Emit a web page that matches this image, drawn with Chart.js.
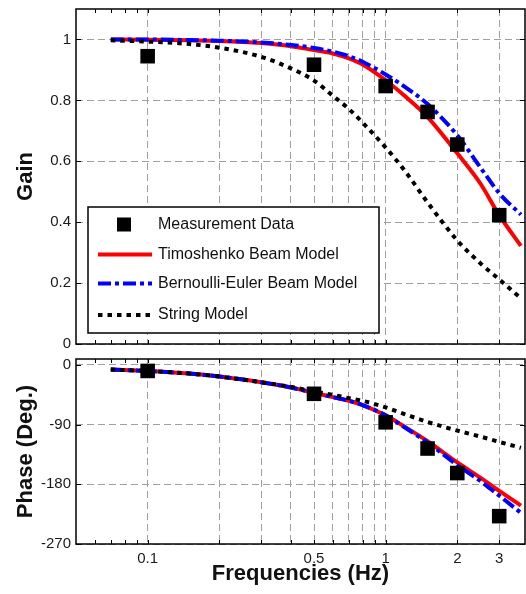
<!DOCTYPE html>
<html>
<head>
<meta charset="utf-8">
<script src="https://cdn.jsdelivr.net/npm/chart.js@4.4.0/dist/chart.umd.min.js"></script>
<style>
  html, body { margin: 0; padding: 0; background: #fff; }
  #wrap { position: relative; width: 526px; height: 594px; overflow: hidden; }
  #gainChart { position: absolute; left: 0; top: 0; }
  #phaseChart { position: absolute; left: 0; top: 350px; }
</style>
</head>
<body>
<div id="wrap">
  <canvas id="gainChart" width="526" height="353"></canvas>
  <canvas id="phaseChart" width="526" height="244"></canvas>
</div>
<script>
// model curves, sampled at these frequencies (Hz)
const freqModel = [0.07, 0.1, 0.15, 0.2, 0.3, 0.4, 0.5, 0.6, 0.7, 0.8, 1, 1.2, 1.5, 2, 2.5, 3, 3.7];
const gainTimoshenko = [1.0, 0.999, 0.997, 0.995, 0.988, 0.978, 0.965, 0.954, 0.938, 0.918, 0.866, 0.815, 0.745, 0.626, 0.527, 0.423, 0.322];
const gainBernoulli = [1.0, 1.0, 0.998, 0.996, 0.99, 0.982, 0.972, 0.96, 0.945, 0.927, 0.885, 0.845, 0.788, 0.685, 0.58, 0.495, 0.425];
const gainString = [0.997, 0.993, 0.985, 0.973, 0.943, 0.905, 0.865, 0.815, 0.772, 0.727, 0.645, 0.57, 0.465, 0.34, 0.265, 0.212, 0.15];
const phaseTimoshenko = [-7, -9, -13, -17.5, -26, -34, -42, -48.5, -54, -60.5, -76, -93, -115, -147, -170, -190, -212];
const phaseBernoulli = [-7, -9, -13, -17.5, -26, -34, -42, -48.5, -54, -60.5, -76, -94, -117, -151, -175, -197, -223];
const phaseString = [-7, -9, -13, -17.5, -26, -33, -40, -45, -50, -54, -64, -74, -86, -99, -108, -116, -125];

// measurements
const freqMeas = [0.1, 0.5, 1, 1.5, 2, 3];
const gainMeas = [0.945, 0.917, 0.847, 0.762, 0.655, 0.423];
const phaseMeas = [-9, -43.5, -86.5, -126, -163, -228];

// axes
const xTicks = [0.06, 0.07, 0.08, 0.09, 0.1, 0.2, 0.3, 0.4, 0.5, 0.6, 0.7, 0.8, 0.9, 1, 2, 3];
const xGrid = [0.1, 0.2, 0.3, 0.4, 0.5, 0.6, 0.7, 0.8, 0.9, 1, 2, 3];
const xLabels = [0.1, 0.5, 1, 2, 3];
const gainTicks = [0, 0.2, 0.4, 0.6, 0.8, 1];
const phaseTicks = [-270, -180, -90, 0];

Chart.defaults.font.family = "'Liberation Sans', Arial, sans-serif";
Chart.defaults.color = '#1a1a1a';

const GRID = '#a0a0a0';
const DASH = [7, 4];

function pts(xs, ys) {
  return xs.map((x, i) => ({x: x, y: ys[i]}));
}

function makeDatasets(meas, timo, bern, str) {
  return [{
    label: 'Measurement Data',
    data: pts(freqMeas, meas),
    showLine: false,
    pointStyle: 'rect',
    pointRadius: 10.3,
    pointBackgroundColor: '#000',
    pointBorderColor: '#000',
    pointBorderWidth: 0,
    order: 0
  }, {
    label: 'String Model',
    data: pts(freqModel, str),
    borderColor: '#000',
    borderWidth: 4,
    borderDash: [4.5, 5],
    pointRadius: 0,
    cubicInterpolationMode: 'monotone',
    order: 1
  }, {
    label: 'Bernoulli-Euler Beam Model',
    data: pts(freqModel, bern),
    borderColor: '#0000ff',
    borderWidth: 4,
    borderDash: [13, 4, 4, 4],
    pointRadius: 0,
    cubicInterpolationMode: 'monotone',
    order: 2
  }, {
    label: 'Timoshenko Beam Model',
    data: pts(freqModel, timo),
    borderColor: '#ff0000',
    borderWidth: 4,
    pointRadius: 0,
    cubicInterpolationMode: 'monotone',
    order: 3
  }];
}

// inward ticks + box frame, like the original plot
const framePlugin = {
  id: 'frame',
  afterDatasetsDraw(chart) {
    const {ctx, chartArea: a} = chart;
    const x = chart.scales.x, y = chart.scales.y;
    ctx.save();
    ctx.strokeStyle = '#000';
    ctx.lineWidth = 1;
    ctx.beginPath();
    xTicks.forEach(v => {
      const p = Math.round(x.getPixelForValue(v)) + 0.5;
      ctx.moveTo(p, a.bottom); ctx.lineTo(p, a.bottom - 4);
      ctx.moveTo(p, a.top); ctx.lineTo(p, a.top + 4);
    });
    y.ticks.forEach(t => {
      const p = Math.round(y.getPixelForValue(t.value)) + 0.5;
      ctx.moveTo(a.left, p); ctx.lineTo(a.left + 5, p);
      ctx.moveTo(a.right, p); ctx.lineTo(a.right - 5, p);
    });
    ctx.stroke();
    ctx.lineWidth = 1.5;
    ctx.strokeRect(a.left, a.top, a.width, a.height);
    ctx.restore();
  }
};

// boxed legend inside the gain plot
const legendRows = ['Measurement Data', 'Timoshenko Beam Model', 'Bernoulli-Euler Beam Model', 'String Model'];
const legendPlugin = {
  id: 'boxLegend',
  afterDraw(chart) {
    const ctx = chart.ctx;
    const rowY = [224.5, 254.5, 283.5, 315];
    ctx.save();
    ctx.fillStyle = '#fff';
    ctx.fillRect(88, 207, 291, 126);
    ctx.strokeStyle = '#000';
    ctx.lineWidth = 1.5;
    ctx.strokeRect(88, 207, 291, 126);
    ctx.font = "16px 'Liberation Sans', Arial, sans-serif";
    ctx.textBaseline = 'middle';
    ctx.textAlign = 'left';
    legendRows.forEach((name, i) => {
      const ds = chart.data.datasets.find(d => d.label === name);
      const yy = rowY[i];
      if (ds.showLine === false) {
        ctx.fillStyle = '#000';
        ctx.fillRect(117, yy - 7, 14, 14);
      } else {
        ctx.strokeStyle = ds.borderColor;
        ctx.lineWidth = ds.borderWidth;
        ctx.setLineDash(ds.borderDash || []);
        ctx.beginPath();
        ctx.moveTo(98, yy);
        ctx.lineTo(152, yy);
        ctx.stroke();
        ctx.setLineDash([]);
      }
      ctx.fillStyle = '#111';
      ctx.fillText(name, 158, yy);
    });
    ctx.restore();
  }
};

function xScale(showLabels) {
  return {
    type: 'logarithmic',
    min: 0.05,
    max: 3.85,
    afterBuildTicks: s => { s.ticks = xTicks.map(v => ({value: v})); },
    afterFit: s => { s.height = showLabels ? 50 : 9; },
    ticks: {
      display: showLabels,
      autoSkip: false,
      maxRotation: 0,
      padding: 0,
      font: {size: 15},
      callback: v => xLabels.includes(v) ? String(v) : ''
    },
    grid: {
      color: c => (c.tick && xGrid.includes(c.tick.value)) ? GRID : 'transparent',
      drawTicks: showLabels,
      tickLength: 6,
      tickColor: 'transparent'
    },
    border: {display: false, dash: DASH},
    title: showLabels ? {
      display: true,
      text: 'Frequencies (Hz)',
      font: {size: 22, weight: 'bold'},
      color: '#111',
      padding: {top: 0, bottom: 7}
    } : {display: false}
  };
}

function yScale(min, max, ticks, title) {
  return {
    min: min,
    max: max,
    afterBuildTicks: s => { s.ticks = ticks.map(v => ({value: v})); },
    afterFit: s => { s.width = 76; },
    ticks: {padding: 0, font: {size: 15}, callback: v => String(v)},
    grid: {color: GRID, drawTicks: true, tickLength: 5, tickColor: 'transparent'},
    border: {display: false, dash: DASH},
    title: {
      display: true,
      text: title,
      font: {size: 22, weight: 'bold'},
      color: '#111',
      padding: {top: 13, bottom: 0}
    }
  };
}

const common = {
  responsive: false,
  animation: false,
  devicePixelRatio: 1,
  plugins: {legend: {display: false}, tooltip: {enabled: false}}
};

new Chart(document.getElementById('gainChart'), {
  type: 'line',
  data: {datasets: makeDatasets(gainMeas, gainTimoshenko, gainBernoulli, gainString)},
  options: Object.assign({}, common, {
    layout: {autoPadding: false, padding: {top: 9, right: 1, left: 0, bottom: 0}},
    scales: {x: xScale(false), y: yScale(0, 1.1, gainTicks, 'Gain')}
  }),
  plugins: [framePlugin, legendPlugin]
});

new Chart(document.getElementById('phaseChart'), {
  type: 'line',
  data: {datasets: makeDatasets(phaseMeas, phaseTimoshenko, phaseBernoulli, phaseString)},
  options: Object.assign({}, common, {
    layout: {autoPadding: false, padding: {top: 9, right: 1, left: 0, bottom: 0}},
    scales: {x: xScale(true), y: yScale(-270, 9, phaseTicks, 'Phase (Deg.)')}
  }),
  plugins: [framePlugin]
});
</script>
</body>
</html>
